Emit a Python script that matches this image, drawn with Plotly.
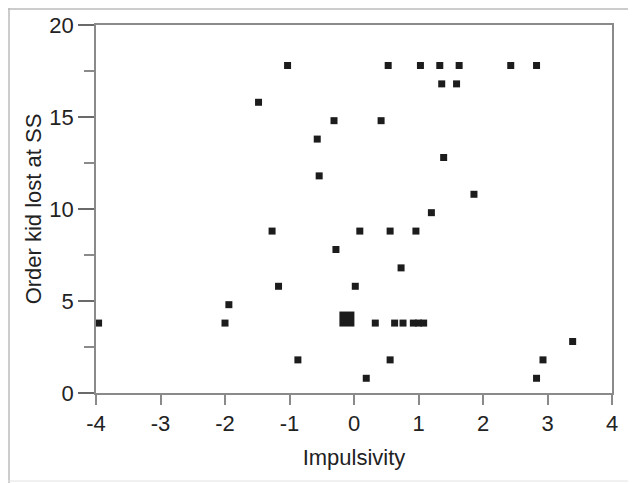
import plotly.graph_objects as go

# Individual subjects: (impulsivity, order kid lost at SS)
impulsivity = [-1.03, 0.53, 1.03, 1.33, 1.63, 2.43, 2.83,
               1.36, 1.59,
               -1.48,
               -0.31, 0.42,
               -0.57,
               1.39,
               -0.54,
               1.86,
               1.20,
               -1.27, 0.09, 0.56, 0.96,
               -0.28,
               0.73,
               -1.17, 0.02,
               -1.94,
               -3.96, -2.00, 0.33, 0.63, 0.76, 0.92, 1.00, 1.08,
               3.39,
               -0.87, 0.56, 2.93,
               0.19, 2.83]
order_lost = [17.8, 17.8, 17.8, 17.8, 17.8, 17.8, 17.8,
              16.8, 16.8,
              15.8,
              14.8, 14.8,
              13.8,
              12.8,
              11.8,
              10.8,
              9.8,
              8.8, 8.8, 8.8, 8.8,
              7.8,
              6.8,
              5.8, 5.8,
              4.8,
              3.8, 3.8, 3.8, 3.8, 3.8, 3.8, 3.8, 3.8,
              2.8,
              1.8, 1.8, 1.8,
              0.8, 0.8]

# Mean point (large square)
mean_x = [-0.11]
mean_y = [4.02]

x_ticks = [-4, -3, -2, -1, 0, 1, 2, 3, 4]
y_ticks = [0, 5, 10, 15, 20]

fig = go.Figure()
fig.add_trace(go.Scatter(x=impulsivity, y=order_lost, mode="markers",
                         marker=dict(symbol="square", size=7, color="#1c1c1c"),
                         showlegend=False))
fig.add_trace(go.Scatter(x=mean_x, y=mean_y, mode="markers",
                         marker=dict(symbol="square", size=15, color="#1c1c1c"),
                         showlegend=False))

W, H = 628, 475
L, R, T, B = 88, 24, 17, 90
pw, ph = W - L - R, H - T - B

fig.update_layout(
    width=W, height=H,
    margin=dict(l=L, r=R, t=T, b=B, autoexpand=False),
    paper_bgcolor="white", plot_bgcolor="white",
    font=dict(family="Liberation Sans, Arial, sans-serif", size=22, color="#222"),
    xaxis=dict(range=[-4, 4], tickvals=x_ticks, ticktext=[str(v) for v in x_ticks],
               automargin=False,
               showgrid=False, zeroline=False, showline=True, mirror=True,
               linecolor="#8a8a8a", linewidth=1.5, ticks="outside", ticklen=10,
               tickcolor="#8a8a8a", tickwidth=1.5, ticklabelstandoff=0,
               tickfont=dict(size=22),
               title=dict(text="Impulsivity", standoff=14, font=dict(size=22))),
    yaxis=dict(range=[0, 20], tickvals=y_ticks, ticktext=[str(v) for v in y_ticks],
               automargin=False,
               showgrid=False, zeroline=False, showline=True, mirror=True,
               linecolor="#8a8a8a", linewidth=1.5, ticks="outside", ticklen=16,
               tickcolor="#6a6a6a", tickwidth=1.5, ticklabelstandoff=0,
               tickfont=dict(size=22),
               minor=dict(ticks="outside", ticklen=10, tickcolor="#8a8a8a",
                          tickwidth=1.5, dtick=2.5, tick0=0),
               title=dict(text="Order kid lost at SS", standoff=2, font=dict(size=22))),
    shapes=[
        dict(type="line", xref="paper", yref="paper",
             x0=-L / pw, x1=1 + R / pw, y0=1 + (T - 1) / ph, y1=1 + (T - 1) / ph,
             line=dict(color="#bbbbbb", width=1.5)),
        dict(type="line", xref="paper", yref="paper",
             x0=-(L - 1) / pw, x1=-(L - 1) / pw, y0=1 + T / ph, y1=-B / ph,
             line=dict(color="#bbbbbb", width=1.5)),
        dict(type="line", xref="paper", yref="paper",
             x0=-L / pw, x1=1 + R / pw, y0=-(B - 2) / ph, y1=-(B - 2) / ph,
             line=dict(color="#e2e2e2", width=1)),
    ],
)

fig.write_html("out.html")
